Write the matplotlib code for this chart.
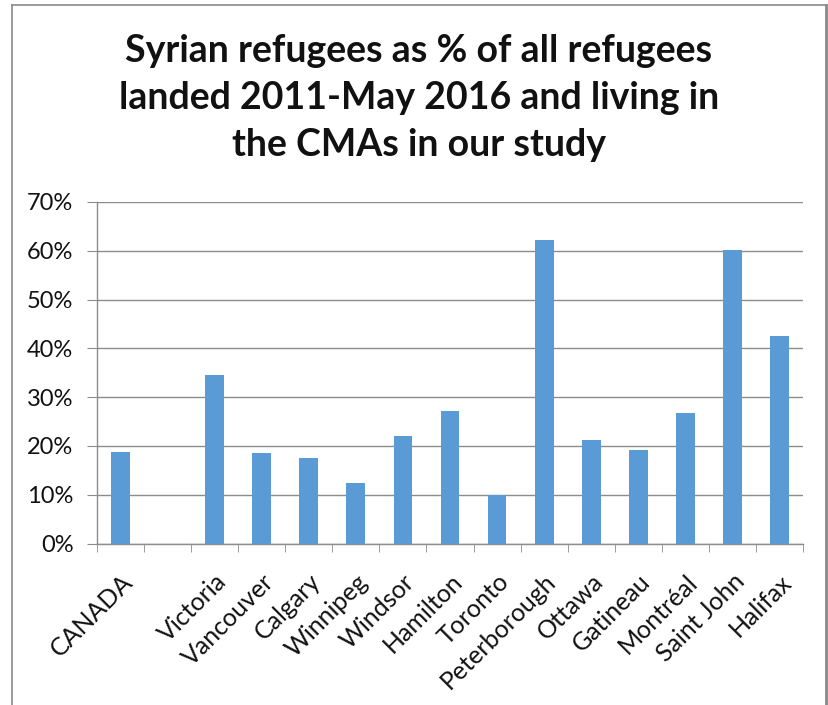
import matplotlib
matplotlib.use("Agg")
import matplotlib.pyplot as plt
from matplotlib.lines import Line2D
from matplotlib.ticker import FuncFormatter, FixedLocator
import numpy as np

categories = ["CANADA", "", "Victoria", "Vancouver", "Calgary", "Winnipeg", "Windsor",
              "Hamilton", "Toronto", "Peterborough", "Ottawa", "Gatineau", "Montréal",
              "Saint John", "Halifax"]
values = [18.7, None, 34.6, 18.5, 17.6, 12.5, 22.0, 27.2, 9.9, 62.2, 21.2, 19.1, 26.8, 60.1, 42.5]
yticks = [0, 10, 20, 30, 40, 50, 60, 70]
title = "Syrian refugees as % of all refugees\nlanded 2011-May 2016 and living in\nthe CMAs in our study"

W, H = 829, 705
fig = plt.figure(figsize=(W / 100, H / 100), dpi=100)
fig.patch.set_facecolor("white")

left, right, bottom, top = 97, 803, 543.5, 202
ax = fig.add_axes([left / W, 1 - bottom / H, (right - left) / W, (bottom - top) / H])

x = np.arange(len(categories))
xs = [xi for xi, v in zip(x, values) if v is not None]
vs = [v for v in values if v is not None]
ax.bar(xs, vs, width=0.4, color="#5B9BD5", zorder=3)

ax.set_xlim(-0.5, len(categories) - 0.5)
ax.set_ylim(0, 70)
ax.set_yticks(yticks)
ax.yaxis.set_major_formatter(FuncFormatter(lambda v, p: f"{int(v)}%"))
ax.grid(axis="y", color="#8c8c8c", linewidth=1.0, zorder=0)

for s in ["top", "right"]:
    ax.spines[s].set_visible(False)
ax.spines["left"].set_color("#8c8c8c")
ax.spines["bottom"].set_color("#8c8c8c")
ax.spines["left"].set_linewidth(1.0)
ax.spines["bottom"].set_linewidth(1.0)

ax.tick_params(axis="y", length=7, color="#8c8c8c", labelsize=17, pad=10, labelcolor="#111111")
ax.set_xticks(x)
ax.set_xticklabels(categories, rotation=45, ha="right", va="top", rotation_mode="anchor",
                   fontsize=18, color="#111111")
ax.tick_params(axis="x", length=0, pad=19)
ax.xaxis.set_minor_locator(FixedLocator(np.arange(-0.5, len(categories), 1.0)))
ax.tick_params(axis="x", which="minor", length=6, color="#8c8c8c")

for lab in ax.get_xticklabels() + ax.get_yticklabels():
    lab.set_family(["Lato", "DejaVu Sans"])

fig.text(419 / W, 1 - 98 / H, title, ha="center", va="center", fontsize=27,
         fontweight="bold", family=["Lato", "DejaVu Sans"], linespacing=1.45, color="#111111")

# outer frame
fig.add_artist(Line2D([12 / W, 12 / W], [0, 1 - 5 / H], transform=fig.transFigure, color="#8a8a8a", lw=1.2))
fig.add_artist(Line2D([12 / W, 826 / W], [1 - 5 / H, 1 - 5 / H], transform=fig.transFigure, color="#8a8a8a", lw=1.2))
fig.add_artist(Line2D([826 / W, 826 / W], [0, 1 - 5 / H], transform=fig.transFigure, color="#8a8a8a", lw=2))

fig.savefig("out.png", dpi=100, facecolor="white")
